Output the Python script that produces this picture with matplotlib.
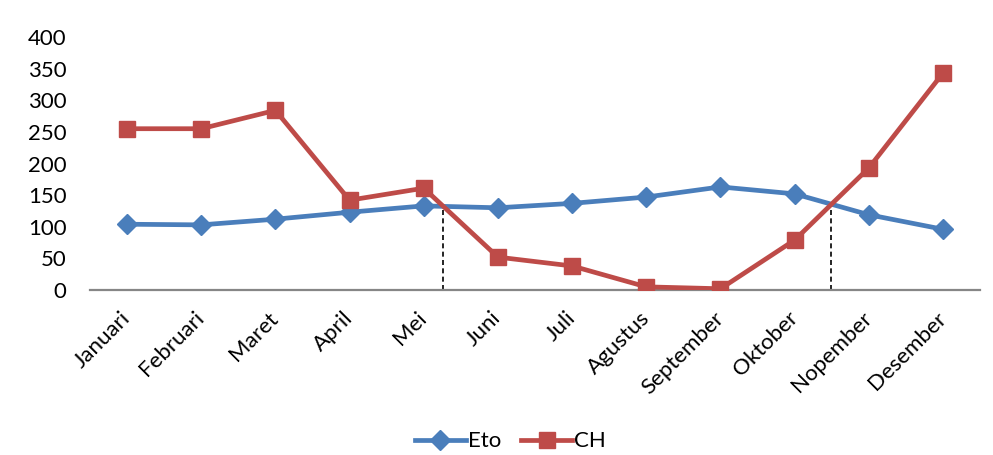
import numpy as np
import matplotlib
matplotlib.use("Agg")
import matplotlib.pyplot as plt

plt.rcParams["font.family"] = ["Lato", "DejaVu Sans"]

months = ["Januari", "Februari", "Maret", "April", "Mei", "Juni", "Juli",
          "Agustus", "September", "Oktober", "Nopember", "Desember"]
eto = [104, 103, 112, 123, 133, 130, 137, 147, 163, 152, 119, 96]
ch = [255, 255, 284, 142, 161, 52, 38, 5, 2, 79, 193, 343]
y_ticks = [0, 50, 100, 150, 200, 250, 300, 350, 400]

x = np.arange(len(months))
eto_a = np.array(eto, float)
ch_a = np.array(ch, float)

# where the two curves swap order -> interpolate crossing point
crossings = []
d = ch_a - eto_a
for i in range(len(d) - 1):
    if d[i] * d[i + 1] < 0:
        t = d[i] / (d[i] - d[i + 1])
        crossings.append((x[i] + t, eto_a[i] + t * (eto_a[i + 1] - eto_a[i])))

fig = plt.figure(figsize=(9.93, 4.55), dpi=100)
ax = fig.add_axes([0.0906, 0.3626, 0.8964, 0.5561])

for cx, cy in crossings:
    ax.plot([cx, cx], [0, cy], color="black", lw=1.2, ls=(0, (3, 2)), zorder=1)

ax.plot(x, eto, color="#4A7EBB", lw=3.4, marker="D", ms=10, label="Eto", zorder=3)
ax.plot(x, ch, color="#BE4B48", lw=3.4, marker="s", ms=12, label="CH", zorder=4)

ax.set_xlim(-0.5, 11.5)
ax.set_ylim(0, 400)
ax.set_yticks(y_ticks)
ax.set_yticklabels([str(v) for v in y_ticks], fontsize=16)
ax.set_xticks(x)
ax.set_xticklabels(months, fontsize=16, rotation=45, ha="right", va="center",
                   rotation_mode="anchor")
ax.tick_params(axis="both", length=0)
ax.tick_params(axis="x", pad=18)
ax.tick_params(axis="y", pad=17)

for s in ["left", "right", "top"]:
    ax.spines[s].set_visible(False)
ax.spines["bottom"].set_color("#868686")
ax.spines["bottom"].set_linewidth(1.6)

fig.legend(loc="center", bbox_to_anchor=(0.514, 0.03), ncol=2, frameon=False,
           fontsize=16, handlelength=2.3, columnspacing=0.9, handletextpad=0.1)

fig.savefig("out.png", dpi=100)
